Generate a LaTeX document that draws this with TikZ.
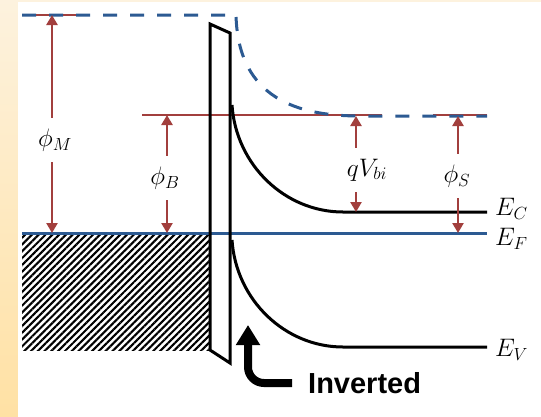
\documentclass[tikz,border=0pt]{standalone}
\usepackage{graphicx}
\usepackage{fontspec}
\newfontfamily\labelsans{Liberation Sans}
\usetikzlibrary{arrows.meta,patterns.meta}
\definecolor{band-blue}{HTML}{2C5A92}
\definecolor{level-red}{HTML}{A23F3D}
\definecolor{frame-light}{HTML}{FDF2DE}
\definecolor{frame-dark}{HTML}{FFE1A4}
\newcommand{\bandsym}[1]{\scalebox{1.22}{$#1$}}

\begin{document}
\begin{tikzpicture}[x=1pt, y=-1pt,
      every node/.style={font=\huge, inner sep=0pt},
      level/.style={level-red, line width=2.2pt},
      gap/.style={level-red, line width=2.5pt, shorten <=11pt,
                  -{Triangle[width=11pt,length=10pt]}},
      band/.style={black, line width=3pt}]
    \useasboundingbox (0,0) rectangle (541,416);
    \fill[top color=frame-light, bottom color=frame-dark] (0,0) rectangle (541,416);
    \fill[white] (18,2) rectangle (550,425);
    % metal side
    \fill[pattern={Lines[angle=45,distance=4.8pt,line width=2.1pt]}]
          (22,233) rectangle (210,350);
    \draw[level] (22,15) -- (78,15);
    \draw[level] (142,115) -- (382,115);
    \draw[level] (433,115) -- (487,115);
    \draw[band-blue, line width=3pt, dash pattern=on 14pt off 13pt]
          (22,15) -- (236,15) .. controls (238,100) and (300,116) .. (360,116)
          -- (487,116);
    \draw[band-blue, line width=3pt] (22,233) -- (487,233);
    % oxide
    \draw[line width=3pt] (210,24) -- (230,33) -- (230,363) -- (210,350) -- cycle;
    % bands in the semiconductor
    \draw[band] (232,105) .. controls (236,165) and (285,212) .. (343,212)
          -- (487,212);
    \draw[band] (232,240) .. controls (236,300) and (285,347) .. (343,347)
          -- (487,347);
    \coordinate (vacM) at (52,15);
    \coordinate (fermiM) at (52,233);
    \coordinate (barTop) at (167,115);
    \coordinate (barBot) at (167,233);
    \coordinate (biTop) at (356,116);
    \coordinate (biBot) at (356,212);
    \coordinate (semTop) at (458,116);
    \coordinate (semBot) at (458,233);
    \node (phiM) at (55,140) {\bandsym{\phi_M}};
    \node (phiB) at (165,178) {\bandsym{\phi_B}};
    \node (qVbi) at (367,170) {\bandsym{qV_{bi}}};
    \node (phiS) at (457,176) {\bandsym{\phi_S}};
    \node[anchor=west] (EC) at (495,209) {\bandsym{E_C}};
    \node[anchor=west] (EF) at (495,239) {\bandsym{E_F}};
    \node[anchor=west] (EV) at (495,350) {\bandsym{E_V}};
    \draw[gap] (vacM |- phiM.north) -- (vacM);
    \draw[gap] (vacM |- phiM.south) -- (fermiM);
    \draw[gap] (barTop |- phiB.north) -- (barTop);
    \draw[gap] (barTop |- phiB.south) -- (barBot);
    \draw[gap] (biTop |- qVbi.north) -- (biTop);
    \draw[gap] (biTop |- qVbi.south) -- (biBot);
    \draw[gap] (semTop |- phiS.north) -- (semTop);
    \draw[gap] (semTop |- phiS.south) -- (semBot);
    \node[anchor=west, font=\labelsans\bfseries\fontsize{29}{34}\selectfont]
          (inv) at (308,383) {Inverted};
    \coordinate (invTip) at (248,325);
    \draw[line width=8pt, rounded corners=16pt,
          -{Triangle[width=23pt,length=20pt]}] ([xshift=-16pt]inv.west) -| (invTip);
  \end{tikzpicture}
\end{document}
